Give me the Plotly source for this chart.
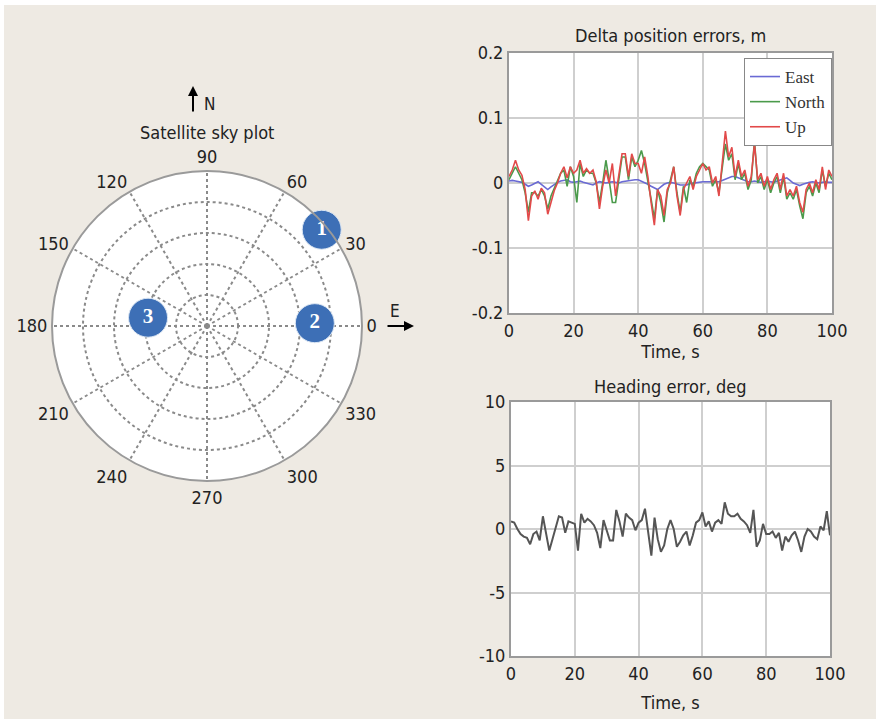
import plotly.graph_objects as go

W, H = 876, 719
BG = "#eeeae3"
FONT = "Liberation Sans Narrow, DejaVu Sans Condensed, sans-serif"

# ---------------- data ----------------
time_s = list(range(0, 101))

east_err = [0.003, 0.004, 0.003, 0.002, 0.001, -0.002, -0.005, -0.003, 0.000, 0.002,
            -0.002, -0.006, -0.010, -0.006, -0.002, 0.001, 0.003, 0.004, 0.005, 0.002,
            0.001, 0.002, 0.003, 0.001, 0.000, -0.002, -0.003, 0.000, 0.002, 0.001,
            0.000, 0.001, 0.002, 0.001, 0.000, 0.002, 0.003, 0.004, 0.004, 0.005,
            0.005, 0.003, 0.001, -0.002, -0.005, -0.008, -0.010, -0.006, -0.002, 0.000,
            0.001, 0.000, -0.002, -0.003, -0.003, -0.003, -0.001, 0.000, 0.001, 0.002,
            0.002, 0.002, 0.002, 0.001, 0.001, 0.002, 0.004, 0.006, 0.008, 0.010,
            0.010, 0.008, 0.005, 0.003, 0.002, 0.002, 0.003, 0.002, 0.001, 0.002,
            0.003, 0.002, 0.001, 0.003, 0.005, 0.007, 0.008, 0.004, 0.000, -0.002,
            -0.004, -0.002, 0.000, 0.001, 0.002, 0.001, 0.000, 0.001, 0.002, 0.001,
            0.001]

north_err = [0.005, 0.015, 0.025, 0.015, 0.005, -0.015, -0.045, -0.015, -0.015, -0.020,
             -0.010, -0.020, -0.040, -0.020, -0.008, 0.005, 0.015, 0.020, -0.005, 0.025,
             0.010, -0.030, 0.030, 0.010, 0.020, 0.015, 0.015, 0.000, -0.030, 0.000,
             0.035, 0.005, -0.030, -0.030, 0.005, 0.040, 0.040, 0.005, 0.040, 0.025,
             0.035, 0.050, 0.030, 0.005, -0.025, -0.055, -0.010, -0.030, -0.060, -0.015,
             0.005, 0.025, -0.015, -0.045, -0.005, -0.030, 0.005, -0.005, 0.015, 0.025,
             0.030, 0.025, 0.020, -0.005, 0.005, -0.015, 0.020, 0.060, 0.035, 0.045,
             0.005, 0.030, 0.005, 0.015, -0.010, 0.005, 0.065, 0.000, 0.010, -0.010,
             0.005, -0.015, 0.000, 0.010, -0.015, 0.010, -0.025, -0.015, -0.025, -0.010,
             -0.035, -0.055, -0.015, -0.005, -0.020, 0.000, -0.015, 0.020, -0.005, 0.015,
             0.005]

up_err = [0.010, 0.020, 0.035, 0.020, 0.012, -0.010, -0.058, -0.020, -0.012, -0.025,
          -0.008, -0.015, -0.048, -0.028, -0.012, 0.000, 0.015, 0.025, 0.008, 0.025,
          0.015, 0.020, 0.035, 0.015, 0.022, 0.015, 0.020, 0.002, -0.040, -0.005,
          0.020, 0.000, 0.030, -0.020, 0.010, 0.045, 0.045, 0.010, 0.045, 0.030,
          0.030, 0.015, 0.040, 0.010, -0.030, -0.065, -0.010, -0.020, -0.050, -0.010,
          0.000, 0.025, -0.020, -0.050, -0.010, 0.000, 0.010, -0.010, 0.010, 0.020,
          0.030, 0.020, 0.025, 0.000, 0.010, -0.020, 0.030, 0.080, 0.040, 0.055,
          0.010, 0.035, 0.010, 0.020, -0.005, 0.010, 0.060, 0.005, 0.015, -0.005,
          0.010, -0.010, 0.005, 0.015, -0.010, 0.015, -0.020, -0.010, -0.020, -0.005,
          -0.030, -0.045, -0.010, 0.000, -0.015, 0.005, -0.010, 0.025, -0.010, 0.020,
          0.010]

heading_err = [0.6, 0.5, 0.0, -0.4, -0.6, -0.7, -1.2, -0.4, -0.2, -0.9,
               1.0, -0.3, -1.7, -0.8, 0.2, 1.0, 0.9, -0.3, 0.6, 0.5,
               0.4, -1.7, 1.2, 0.5, 0.8, 0.6, 0.3, -0.3, -1.5, 0.7,
               -0.2, -0.9, -0.9, 1.5, 0.6, -0.6, 1.2, 0.9, 0.7, -0.1,
               0.5, 0.7, 1.6, -0.3, -2.1, 0.9, -0.8, -1.8, -1.3, 0.0,
               0.7, 0.0, -1.4, -1.0, -0.5, -0.2, -1.3, -0.5, 0.5, 0.7,
               1.3, 0.2, 0.6, -0.2, 0.5, 0.7, 0.4, 2.1, 1.2, 1.0,
               1.0, 1.2, 0.8, 0.6, 0.3, -0.3, 1.5, -1.4, -0.9, 0.4,
               -0.4, -0.4, -0.2, -0.7, -0.3, -1.7, -0.6, -1.0, -0.5, -0.2,
               -0.9, -1.8, -0.6, 0.0, -0.2, -0.6, -0.8, 0.2, -0.1, 1.4,
               -0.5]

sat_ids = ["1", "2", "3"]
sat_radius = [4.83, 3.48, 1.92]      # ring units (outer ring = 5)
sat_azimuth = [40, 1.5, 172]         # degrees

angle_ticks = list(range(0, 360, 30))
pos_ticks = [-0.2, -0.1, 0, 0.1, 0.2]
pos_ticklabels = ["-0.2", "-0.1", "0", "0.1", "0.2"]
head_ticks = [-10, -5, 0, 5, 10]
head_ticklabels = ["-10", "-5", "0", "5", "10"]
time_ticks = [0, 20, 40, 60, 80, 100]

series_names = ["East", "North", "Up"]
series_colors = ["#6a6ad4", "#4b9a4b", "#e24a4a"]

# ---------------- figure ----------------
fig = go.Figure()

for name, vals, col in zip(series_names, [east_err, north_err, up_err], series_colors):
    fig.add_trace(go.Scatter(x=time_s, y=vals, mode="lines", name=name,
                             line=dict(color=col, width=1.6),
                             xaxis="x", yaxis="y"))

fig.add_trace(go.Scatter(x=time_s, y=heading_err, mode="lines", showlegend=False,
                         line=dict(color="#555555", width=2),
                         xaxis="x2", yaxis="y2"))

fig.add_trace(go.Scatterpolar(r=sat_radius, theta=sat_azimuth, mode="markers+text",
                              text=["<b>" + s + "</b>" for s in sat_ids],
                              textposition="middle center",
                              textfont=dict(family="Liberation Serif, serif", size=21,
                                            color="white"),
                              marker=dict(size=39, color="#3d6fb6",
                                          line=dict(color="#dbe6f3", width=1)),
                              showlegend=False, subplot="polar"))

def px_x(p):
    return p / W

def px_y(p):
    return 1 - p / H

axis_common = dict(showgrid=True, gridcolor="#cfcfcf", gridwidth=2, automargin=False,
                   zeroline=False, showline=True, linecolor="#9a9a9a", linewidth=2,
                   mirror=True, ticks="", tickfont=dict(family=FONT, size=18, color="#222"))

def label(text, x, y, size=18):
    return dict(text=text, x=px_x(x), y=px_y(y), xref="paper", yref="paper",
                xanchor="center", yanchor="middle", showarrow=False,
                font=dict(family=FONT, size=size, color="#222"))

fig.update_layout(
    width=W, height=H,
    autosize=False,
    margin=dict(l=0, r=0, t=0, b=0, autoexpand=False),
    paper_bgcolor=BG,
    plot_bgcolor="white",
    font=dict(family=FONT, color="#222"),
    xaxis=dict(domain=[px_x(509), px_x(832)], anchor="y", range=[0, 100],
               tickvals=time_ticks,
               title=dict(text="Time, s", font=dict(family=FONT, size=18), standoff=2),
               **axis_common),
    yaxis=dict(domain=[px_y(313), px_y(53)], anchor="x", range=[-0.2, 0.2],
               tickvals=pos_ticks, ticktext=pos_ticklabels, **axis_common),
    xaxis2=dict(domain=[px_x(511), px_x(830)], anchor="y2", range=[0, 100],
                tickvals=time_ticks,
                title=dict(text="Time, s", font=dict(family=FONT, size=18), standoff=14),
                **axis_common),
    yaxis2=dict(domain=[px_y(656), px_y(402)], anchor="x2", range=[-10, 10],
                tickvals=head_ticks, ticktext=head_ticklabels, **axis_common),
    polar=dict(
        domain=dict(x=[px_x(52), px_x(362)], y=[px_y(481), px_y(171)]),
        bgcolor="white",
        angularaxis=dict(direction="counterclockwise", rotation=0,
                         tickvals=angle_ticks, ticks="",
                         showline=True, linecolor="#9a9a9a", linewidth=2,
                         gridcolor="#8a8a8a", griddash="dot", gridwidth=1.5,
                         tickfont=dict(family=FONT, size=18, color="#222")),
        radialaxis=dict(range=[0, 5], dtick=1, showticklabels=False, ticks="",
                        showline=False, gridcolor="#8a8a8a", griddash="dot",
                        gridwidth=1.5),
    ),
    legend=dict(x=px_x(832), y=px_y(58), xanchor="right", yanchor="top",
                bgcolor="white", bordercolor="#888", borderwidth=1,
                font=dict(family="Liberation Serif, Times New Roman, serif", size=17,
                          color="#333"),
                tracegroupgap=0, itemwidth=30),
    shapes=[
        dict(type="rect", xref="paper", yref="paper", x0=0, x1=1,
             y0=px_y(5), y1=1, fillcolor="white", line=dict(width=0), layer="below"),
        dict(type="rect", xref="paper", yref="paper", x0=0, x1=px_x(4),
             y0=0, y1=1, fillcolor="white", line=dict(width=0), layer="below"),
    ],
    annotations=[
        label("Delta position errors, m", 670, 35),
        label("Heading error, deg", 670, 386),
        label("Satellite sky plot", 207, 132),
        label("N", 209, 104, 17),
        label("E", 395, 311, 17),
        dict(text="", x=px_x(193), y=px_y(86), xref="paper", yref="paper",
             showarrow=True, ax=0, ay=27, arrowhead=2, arrowsize=1, arrowwidth=2,
             arrowcolor="black"),
        dict(text="", x=px_x(414), y=px_y(326), xref="paper", yref="paper",
             showarrow=True, ax=-28, ay=0, arrowhead=2, arrowsize=1, arrowwidth=2,
             arrowcolor="black"),
    ],
)

fig.write_html("out.html", config={"responsive": False, "displayModeBar": False},
               post_script="document.body.style.margin='0';"
                           "document.body.style.overflow='hidden';")
